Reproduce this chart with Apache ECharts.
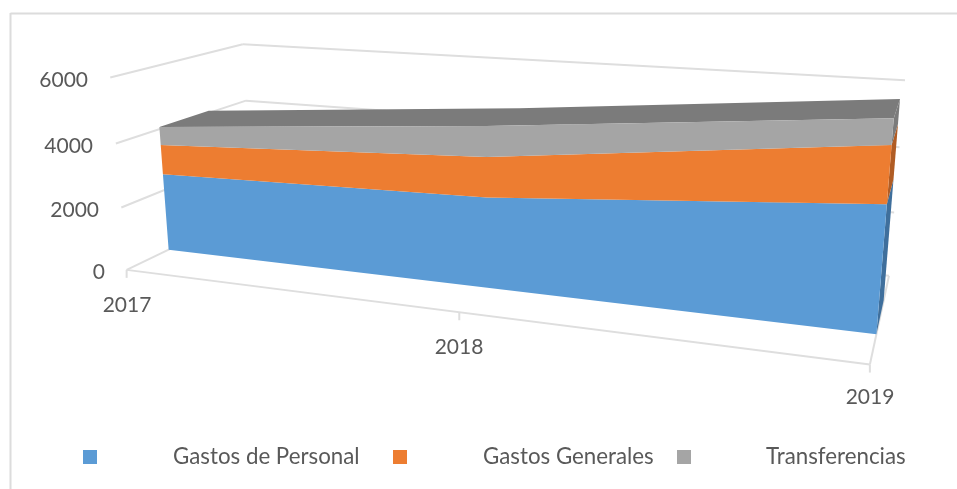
<!DOCTYPE html>
<html><head><meta charset="utf-8">
<style>html,body{margin:0;padding:0;background:#fff}#c{width:957px;height:489px}</style>
<script src="https://cdn.jsdelivr.net/npm/echarts@6/dist/echarts.min.js"></script>
</head><body><div id="c"></div>
<script>
const categories=['2017','2018','2019'];
const yTicks=[0,2000,4000,6000];
const yMax=6000;
const gastosPersonal=[2530,2760,3590];
const gastosGenerales=[950,1210,1570];
const transferencias=[590,910,700];

const cal=[[0,0,0,127,271],[0,1,0,110,77],[0,0,1,252,208],[0,1,1,243,45],[1,0,1,889,277],[1,1,1,905,80],[1,0,0,870,363],[.5,0,0,459,313]];
function solve(A,b){const n=b.length;const M=A.map((r,i)=>[...r,b[i]]);for(let i=0;i<n;i++){let p=i;for(let k=i+1;k<n;k++)if(Math.abs(M[k][i])>Math.abs(M[p][i]))p=k;[M[i],M[p]]=[M[p],M[i]];for(let k=0;k<n;k++){if(k===i)continue;const f=M[k][i]/M[i][i];for(let j=i;j<=n;j++)M[k][j]-=f*M[i][j];}}return M.map((r,i)=>r[n]/r[i]);}
const rows=[],rhs=[];cal.forEach(([u,w,z,X,Y])=>{rows.push([u,w,z,1,0,0,0,0,-X*u,-X*w,-X*z]);rhs.push(X);rows.push([0,0,0,0,u,w,z,1,-Y*u,-Y*w,-Y*z]);rhs.push(Y);});
const AtA=Array.from({length:11},(_,i)=>Array.from({length:11},(_,j)=>rows.reduce((s,r)=>s+r[i]*r[j],0)));
const Atb=Array.from({length:11},(_,i)=>rows.reduce((s,r,k)=>s+r[i]*rhs[k],0));
const P=solve(AtA,Atb);
function proj(u,w,z){const d=P[8]*u+P[9]*w+P[10]*z+1;return [(P[0]*u+P[1]*w+P[2]*z+P[3])/d,(P[4]*u+P[5]*w+P[6]*z+P[7])/d];}
const Z0=.30,Z1=.68;

const W=957,H=489;
function pt(api,i,v,z){const c=api.coord([i,v]);return proj(c[0]/W,(H-c[1])/H,z);}
const layers=[gastosPersonal,gastosGenerales,transferencias];
const cum=(k,i)=>layers.slice(0,k).reduce((s,a)=>s+a[i],0);
const names=['Gastos de Personal','Gastos Generales','Transferencias'];
const colors=['#5b9bd5','#ed7d31','#a5a5a5'];
const sides=['#3f6f9c','#b05c24','#7b7b7b'];
const lineColor='#dedede',textColor='#595959',font='Lato';
function line(a,b){return {type:'line',shape:{x1:a[0],y1:a[1],x2:b[0],y2:b[1]},style:{stroke:lineColor,lineWidth:2}};}
function gridItem(p,api){
  const out=[];
  yTicks.forEach(v=>{
    out.push(line(pt(api,0,v,0),pt(api,0,v,1)));
    out.push(line(pt(api,0,v,1),pt(api,2,v,1)));
  });
  out.push(line(pt(api,0,0,0),pt(api,2,0,0)));
  out.push(line(pt(api,2,0,0),pt(api,2,0,1)));
  categories.forEach((c,i)=>{const a=pt(api,i,0,0);out.push(line(a,[a[0],a[1]+8]));});
  return {type:'group',children:out};
}
function stackItem(k){return function(p,api){
  if(p.dataIndex!==0)return null;
  const n=categories.length,out=[];
  const top=[],bot=[],topB=[];
  for(let i=0;i<n;i++){top.push(pt(api,i,cum(k+1,i),Z0));bot.push(pt(api,i,cum(k,i),Z0));topB.push(pt(api,i,cum(k+1,i),Z1));}
  const last=n-1;
  out.push({type:'polygon',shape:{points:[top[last],topB[last],pt(api,last,cum(k,last),Z1),bot[last]]},style:{fill:sides[k]}});
  if(k===layers.length-1)out.push({type:'polygon',shape:{points:[...top,...topB.slice().reverse()]},style:{fill:'#7b7b7b'}});
  out.push({type:'polygon',shape:{points:[...top,...bot.slice().reverse()]},style:{fill:colors[k]}});
  return {type:'group',children:out};
};}
const yLabelPos=[[105,272],[99,210],[93,146],[88,80]];
const xLabelPos=[[127,305],[459,347],[870,397]];
const chart=echarts.init(document.getElementById('c'));
chart.setOption({
  animation:false,
  grid:{left:0,right:0,top:0,bottom:0},
  xAxis:{type:'category',data:categories,boundaryGap:false,show:false},
  yAxis:{type:'value',min:0,max:yMax,interval:2000,show:false},
  graphic:[
    {type:'line',shape:{x1:10.5,y1:13.5,x2:957,y2:13.5},style:{stroke:'#dcdcdc',lineWidth:2}},
    {type:'line',shape:{x1:10.5,y1:13,x2:10.5,y2:489},style:{stroke:'#dcdcdc',lineWidth:2}}
  ],
  legend:names.map((n,i)=>({data:[n],left:[83,393,677][i],top:442,padding:[4,0,0,0],icon:'rect',itemWidth:14,itemHeight:14,
    textStyle:{color:textColor,fontFamily:font,fontSize:22.3,padding:[0,0,0,[71,71,70][i]]}})),
  series:[
    {type:'custom',name:'grid',silent:true,data:[0],renderItem:gridItem,z:1,clip:false},
    ...names.map((n,k)=>({type:'custom',name:n,itemStyle:{color:colors[k]},data:layers[k].map((v,i)=>[i,v]),renderItem:stackItem(k),z:2+k,clip:false})),
    {type:'custom',name:'labels',silent:true,data:[0],z:9,renderItem:function(p,api){
      const ch=[];
      yTicks.forEach((v,i)=>{const y=yLabelPos[i];ch.push({type:'text',style:{text:String(v),x:y[0],y:y[1],align:'right',verticalAlign:'middle',fill:textColor,font:'21px '+font}});});
      categories.forEach((c,i)=>{const y=xLabelPos[i];ch.push({type:'text',style:{text:c,x:y[0],y:y[1],align:'center',verticalAlign:'middle',fill:textColor,font:'21px '+font}});});
      return {type:'group',children:ch};
    }}
  ]
});
</script></body></html>
